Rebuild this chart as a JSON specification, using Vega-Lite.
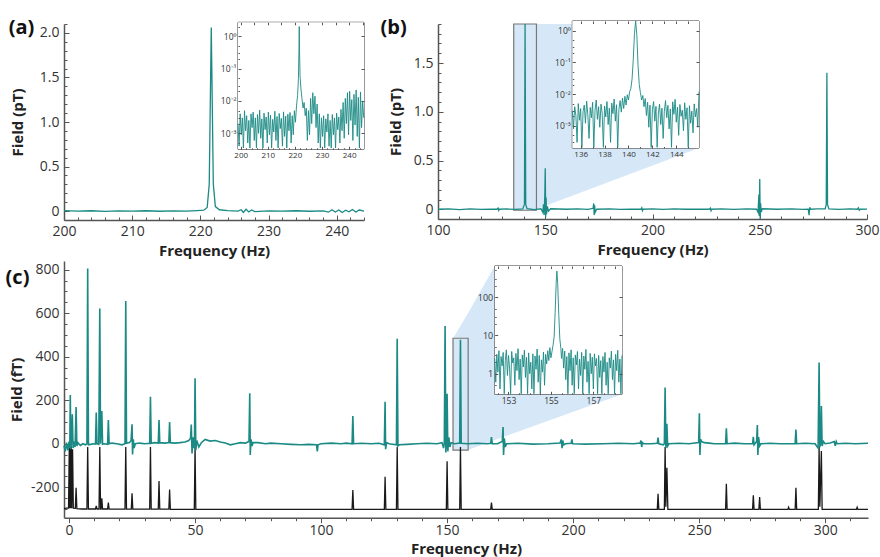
{
  "$schema": "https://vega.github.io/schema/vega-lite/v6.json",
  "background": "white",
  "padding": {"left": 5, "top": 17, "right": 0, "bottom": 0},
  "config": {
    "view": {"stroke": null},
    "font": "Open Sans",
    "axis": {"grid": false, "labelFont": "Open Sans", "labelFontSize": 14, "labelColor": "#333", "titleFont": "Open Sans", "titleFontSize": 15, "titleFontWeight": "bold", "titleColor": "#222", "domainColor": "#555", "domainWidth": 1.5, "tickColor": "#555", "labelFlush": false, "labelOverlap": false}
  },
  "datasets": {
    "a_main": [{"f":200,"v":0.005},{"f":202,"v":0},{"f":204,"v":0.004},{"f":206,"v":-0.003},{"f":208,"v":0.003},{"f":210,"v":0},{"f":212,"v":0.004},{"f":214,"v":-0.002},{"f":216,"v":0.003},{"f":218,"v":0},{"f":219.5,"v":0.005},{"f":220.5,"v":0.01},{"f":221.0,"v":0.04},{"f":221.3,"v":0.3},{"f":221.6,"v":2.06},{"f":221.9,"v":0.3},{"f":222.2,"v":0.05},{"f":222.8,"v":0.015},{"f":224,"v":0.005},{"f":225.5,"v":0},{"f":226,"v":0.015},{"f":226.3,"v":-0.015},{"f":226.7,"v":0.02},{"f":227.1,"v":-0.01},{"f":227.5,"v":0.012},{"f":228,"v":-0.005},{"f":230,"v":0.003},{"f":232,"v":0},{"f":234,"v":0.004},{"f":236,"v":-0.002},{"f":238,"v":0.003},{"f":238.8,"v":-0.012},{"f":239.3,"v":0.015},{"f":239.8,"v":-0.01},{"f":240.3,"v":0.012},{"f":240.8,"v":-0.015},{"f":241.3,"v":0.01},{"f":241.8,"v":-0.008},{"f":242.3,"v":0.018},{"f":242.8,"v":-0.01},{"f":243.3,"v":0.012},{"f":244,"v":0}],
    "a_ins": [{"f":199.0,"v":0.002},{"f":199.4,"v":0.0004},{"f":199.8,"v":0.004},{"f":200.2,"v":0.0009},{"f":200.6,"v":0.003},{"f":201.0,"v":0.00035},{"f":201.4,"v":0.005},{"f":201.8,"v":0.0012},{"f":202.2,"v":0.0035},{"f":202.6,"v":0.0005},{"f":203.0,"v":0.0025},{"f":203.4,"v":0.00035},{"f":203.8,"v":0.004},{"f":204.2,"v":0.0015},{"f":204.6,"v":0.0045},{"f":205.0,"v":0.0006},{"f":205.4,"v":0.003},{"f":205.8,"v":0.00035},{"f":206.2,"v":0.0038},{"f":206.6,"v":0.001},{"f":207.0,"v":0.0052},{"f":207.4,"v":0.0007},{"f":207.8,"v":0.0028},{"f":208.2,"v":0.00035},{"f":208.6,"v":0.0042},{"f":209.0,"v":0.0013},{"f":209.4,"v":0.0032},{"f":209.8,"v":0.0005},{"f":210.2,"v":0.0045},{"f":210.6,"v":0.0009},{"f":211.0,"v":0.0036},{"f":211.4,"v":0.00035},{"f":211.8,"v":0.0027},{"f":212.2,"v":0.0011},{"f":212.6,"v":0.0048},{"f":213.0,"v":0.0006},{"f":213.4,"v":0.0033},{"f":213.8,"v":0.00035},{"f":214.2,"v":0.0041},{"f":214.6,"v":0.0014},{"f":215.0,"v":0.0029},{"f":215.4,"v":0.0004},{"f":215.8,"v":0.0046},{"f":216.2,"v":0.0008},{"f":216.6,"v":0.0034},{"f":217.0,"v":0.00035},{"f":217.4,"v":0.0039},{"f":217.8,"v":0.0012},{"f":218.2,"v":0.0044},{"f":218.6,"v":0.0005},{"f":219.0,"v":0.0035},{"f":219.4,"v":0.0009},{"f":219.8,"v":0.005},{"f":220.2,"v":0.0022},{"f":220.6,"v":0.007},{"f":221.0,"v":0.015},{"f":221.3,"v":0.05},{"f":221.5,"v":0.4},{"f":221.6,"v":2.0},{"f":221.7,"v":0.4},{"f":221.9,"v":0.06},{"f":222.2,"v":0.025},{"f":222.6,"v":0.012},{"f":223.0,"v":0.006},{"f":223.4,"v":0.009},{"f":223.8,"v":0.0035},{"f":224.2,"v":0.006},{"f":224.6,"v":0.0006},{"f":225.0,"v":0.005},{"f":225.4,"v":0.0009},{"f":225.8,"v":0.012},{"f":226.2,"v":0.002},{"f":226.6,"v":0.018},{"f":227.0,"v":0.004},{"f":227.4,"v":0.014},{"f":227.8,"v":0.0015},{"f":228.2,"v":0.008},{"f":228.6,"v":0.0005},{"f":229.0,"v":0.004},{"f":229.4,"v":0.00035},{"f":229.8,"v":0.003},{"f":230.2,"v":0.0008},{"f":230.6,"v":0.0035},{"f":231.0,"v":0.00035},{"f":231.4,"v":0.0028},{"f":231.8,"v":0.0011},{"f":232.2,"v":0.004},{"f":232.6,"v":0.0004},{"f":233.0,"v":0.0025},{"f":233.4,"v":0.00035},{"f":233.8,"v":0.0038},{"f":234.2,"v":0.0009},{"f":234.6,"v":0.003},{"f":235.0,"v":0.00035},{"f":235.4,"v":0.0042},{"f":235.8,"v":0.0013},{"f":236.2,"v":0.0032},{"f":236.6,"v":0.0005},{"f":237.0,"v":0.0055},{"f":237.4,"v":0.0012},{"f":237.8,"v":0.009},{"f":238.2,"v":0.0007},{"f":238.6,"v":0.012},{"f":239.0,"v":0.002},{"f":239.4,"v":0.018},{"f":239.8,"v":0.0009},{"f":240.2,"v":0.02},{"f":240.6,"v":0.0025},{"f":241.0,"v":0.011},{"f":241.4,"v":0.0006},{"f":241.8,"v":0.016},{"f":242.2,"v":0.0018},{"f":242.6,"v":0.022},{"f":243.0,"v":0.0008},{"f":243.4,"v":0.013},{"f":243.8,"v":0.00035},{"f":244.2,"v":0.019},{"f":244.6,"v":0.0015},{"f":245.0,"v":0.01},{"f":245.4,"v":0.003}],
    "b_main": [{"f":100,"v":0},{"f":105,"v":0.004},{"f":110,"v":-0.003},{"f":115,"v":0.003},{"f":120,"v":-0.002},{"f":125,"v":0.002},{"f":127.5,"v":0},{"f":128,"v":0.012},{"f":128.3,"v":-0.012},{"f":128.6,"v":0},{"f":132,"v":0.003},{"f":136,"v":-0.002},{"f":139.5,"v":0.004},{"f":140.3,"v":0.05},{"f":140.6,"v":1.9},{"f":140.9,"v":0.05},{"f":141.5,"v":0.005},{"f":145,"v":-0.003},{"f":148,"v":0.005},{"f":148.8,"v":-0.03},{"f":149.2,"v":0.05},{"f":149.5,"v":-0.06},{"f":149.8,"v":0.15},{"f":150.0,"v":0.42},{"f":150.2,"v":-0.08},{"f":150.4,"v":0.12},{"f":150.6,"v":-0.05},{"f":151,"v":0.03},{"f":151.5,"v":-0.02},{"f":152.5,"v":0.005},{"f":160,"v":0},{"f":165,"v":0.003},{"f":170,"v":-0.002},{"f":172.3,"v":0.01},{"f":172.6,"v":0.06},{"f":172.8,"v":-0.06},{"f":173.0,"v":0.04},{"f":173.3,"v":-0.03},{"f":174,"v":0},{"f":180,"v":0.003},{"f":185,"v":-0.002},{"f":190,"v":0.002},{"f":194.6,"v":0},{"f":195,"v":0.015},{"f":195.3,"v":-0.015},{"f":195.6,"v":0},{"f":200,"v":0.003},{"f":205,"v":-0.002},{"f":210,"v":0.003},{"f":215,"v":0},{"f":220,"v":0.002},{"f":226.5,"v":0},{"f":227,"v":0.012},{"f":227.3,"v":-0.015},{"f":227.6,"v":0},{"f":232,"v":0.003},{"f":238,"v":-0.002},{"f":244,"v":0.003},{"f":248.5,"v":0},{"f":249.2,"v":-0.03},{"f":249.6,"v":0.15},{"f":249.8,"v":-0.07},{"f":250.0,"v":0.31},{"f":250.2,"v":-0.1},{"f":250.4,"v":0.06},{"f":250.7,"v":-0.03},{"f":251.2,"v":0.005},{"f":258,"v":0},{"f":265,"v":0.003},{"f":270,"v":-0.002},{"f":272.6,"v":0},{"f":273,"v":-0.06},{"f":273.3,"v":0.02},{"f":273.6,"v":0},{"f":277,"v":0.003},{"f":280.5,"v":0.003},{"f":281.0,"v":0.05},{"f":281.3,"v":1.4},{"f":281.6,"v":0.05},{"f":282.2,"v":0.004},{"f":287,"v":-0.002},{"f":292,"v":0.003},{"f":295.5,"v":0},{"f":296,"v":0.015},{"f":296.4,"v":-0.01},{"f":296.8,"v":0},{"f":300,"v":0.002}],
    "b_ins": [{"f":135.3,"v":0.003},{"f":135.4,"v":0.0008},{"f":135.5,"v":0.004},{"f":135.6,"v":0.0021},{"f":135.7,"v":0.0003},{"f":135.8,"v":0.005},{"f":135.9,"v":0.0015},{"f":136.0,"v":0.0035},{"f":136.1,"v":0.00021},{"f":136.2,"v":0.0028},{"f":136.3,"v":0.0045},{"f":136.4,"v":0.0012},{"f":136.5,"v":0.006},{"f":136.6,"v":0.0022},{"f":136.7,"v":0.0004},{"f":136.8,"v":0.0038},{"f":136.9,"v":0.0018},{"f":137.0,"v":0.0055},{"f":137.1,"v":0.00021},{"f":137.2,"v":0.003},{"f":137.3,"v":0.0065},{"f":137.4,"v":0.0016},{"f":137.5,"v":0.004},{"f":137.6,"v":0.0009},{"f":137.7,"v":0.0048},{"f":137.8,"v":0.0025},{"f":137.9,"v":0.00021},{"f":138.0,"v":0.0042},{"f":138.1,"v":0.0019},{"f":138.2,"v":0.0058},{"f":138.3,"v":0.0011},{"f":138.4,"v":0.0036},{"f":138.5,"v":0.0003},{"f":138.6,"v":0.0052},{"f":138.7,"v":0.0024},{"f":138.8,"v":0.007},{"f":138.9,"v":0.0014},{"f":139.0,"v":0.0046},{"f":139.1,"v":0.00021},{"f":139.2,"v":0.0033},{"f":139.3,"v":0.0062},{"f":139.4,"v":0.0027},{"f":139.5,"v":0.0075},{"f":139.6,"v":0.0035},{"f":139.7,"v":0.0085},{"f":139.8,"v":0.0045},{"f":139.9,"v":0.0095},{"f":140.0,"v":0.0065},{"f":140.1,"v":0.012},{"f":140.2,"v":0.015},{"f":140.3,"v":0.03},{"f":140.4,"v":0.12},{"f":140.5,"v":0.8},{"f":140.6,"v":2.0},{"f":140.7,"v":0.7},{"f":140.8,"v":0.08},{"f":140.9,"v":0.02},{"f":141.0,"v":0.011},{"f":141.1,"v":0.0065},{"f":141.2,"v":0.009},{"f":141.3,"v":0.004},{"f":141.4,"v":0.0072},{"f":141.5,"v":0.0021},{"f":141.6,"v":0.0055},{"f":141.7,"v":0.0009},{"f":141.8,"v":0.0045},{"f":141.9,"v":0.00021},{"f":142.0,"v":0.0032},{"f":142.1,"v":0.0058},{"f":142.2,"v":0.0014},{"f":142.3,"v":0.0041},{"f":142.4,"v":0.00021},{"f":142.5,"v":0.0025},{"f":142.6,"v":0.0048},{"f":142.7,"v":0.0011},{"f":142.8,"v":0.0036},{"f":142.9,"v":0.0004},{"f":143.0,"v":0.0029},{"f":143.1,"v":0.0062},{"f":143.2,"v":0.0018},{"f":143.3,"v":0.0044},{"f":143.4,"v":0.0008},{"f":143.5,"v":0.0034},{"f":143.6,"v":0.00021},{"f":143.7,"v":0.0057},{"f":143.8,"v":0.0023},{"f":143.9,"v":0.0068},{"f":144.0,"v":0.0013},{"f":144.1,"v":0.0039},{"f":144.2,"v":0.0005},{"f":144.3,"v":0.0047},{"f":144.4,"v":0.002},{"f":144.5,"v":0.0031},{"f":144.6,"v":0.0007},{"f":144.7,"v":0.0053},{"f":144.8,"v":0.0016},{"f":144.9,"v":0.0037},{"f":145.0,"v":0.00021},{"f":145.1,"v":0.0043},{"f":145.2,"v":0.0012},{"f":145.3,"v":0.0029},{"f":145.4,"v":0.0006},{"f":145.5,"v":0.0049},{"f":145.6,"v":0.0019},{"f":145.7,"v":0.0035},{"f":145.8,"v":0.0009},{"f":145.9,"v":0.012}],
    "b_zoom": [{"f":135.3,"lo":0,"hi":1.9},{"f":145.9,"lo":0,"hi":1.9},{"f":221.7,"lo":0.628,"hi":1.9}],
    "b_box": [{"f0":135.3,"f1":145.9,"v0":-0.01,"v1":1.9}],
    "c_zoom": [{"f":152.35,"lo":-29,"hi":485},{"f":158.35,"lo":-29,"hi":601},{"f":168.9,"lo":16.8,"hi":817},{"f":219.4,"lo":227,"hi":817}],
    "c_box": [{"f0":152.35,"f1":158.35,"v0":-29,"v1":485}],
    "c_black": [{"f":-2,"v":-298},{"f":-1,"v":-296},{"f":-0.2,"v":-296},{"f":0.1,"v":-15},{"f":0.3,"v":-296},{"f":0.5,"v":-20},{"f":0.7,"v":-296},{"f":0.9,"v":-12},{"f":1.1,"v":-296},{"f":1.4,"v":-25},{"f":1.7,"v":-296},{"f":2.5,"v":-297},{"f":2.8,"v":-202},{"f":3.1,"v":-298},{"f":5,"v":-300},{"f":7.1,"v":-300},{"f":7.4,"v":-15},{"f":7.7,"v":-300},{"f":10.5,"v":-300},{"f":10.8,"v":-286},{"f":11.1,"v":-300},{"f":11.9,"v":-300},{"f":12.2,"v":-15},{"f":12.5,"v":-300},{"f":12.7,"v":-300},{"f":13.0,"v":-251},{"f":13.3,"v":-300},{"f":15.3,"v":-300},{"f":15.6,"v":-271},{"f":15.9,"v":-301},{"f":22.2,"v":-301},{"f":22.5,"v":-15},{"f":22.8,"v":-301},{"f":24.7,"v":-301},{"f":25.0,"v":-228},{"f":25.3,"v":-301},{"f":32.0,"v":-301},{"f":32.3,"v":-15},{"f":32.6,"v":-301},{"f":35.4,"v":-301},{"f":35.7,"v":-171},{"f":36.0,"v":-301},{"f":39.6,"v":-301},{"f":39.9,"v":-210},{"f":40.2,"v":-302},{"f":49.7,"v":-302},{"f":50.0,"v":-15},{"f":50.3,"v":-302},{"f":112.3,"v":-302},{"f":112.6,"v":-213},{"f":112.9,"v":-302},{"f":125.1,"v":-302},{"f":125.4,"v":-152},{"f":125.7,"v":-302},{"f":129.9,"v":-302},{"f":130.2,"v":-15},{"f":130.5,"v":-302},{"f":149.7,"v":-302},{"f":150.0,"v":-80},{"f":150.3,"v":-302},{"f":155.0,"v":-302},{"f":155.3,"v":-15},{"f":155.6,"v":-302},{"f":167.3,"v":-302},{"f":167.6,"v":-271},{"f":167.9,"v":-302},{"f":233.4,"v":-302},{"f":233.7,"v":-230},{"f":234.0,"v":-302},{"f":236.2,"v":-302},{"f":236.5,"v":-15},{"f":236.8,"v":-290},{"f":237.2,"v":-110},{"f":237.6,"v":-302},{"f":260.5,"v":-302},{"f":260.8,"v":-184},{"f":261.1,"v":-302},{"f":271.2,"v":-302},{"f":271.5,"v":-237},{"f":271.8,"v":-302},{"f":273.7,"v":-302},{"f":274.0,"v":-245},{"f":274.3,"v":-302},{"f":285.2,"v":-302},{"f":285.5,"v":-292},{"f":285.8,"v":-302},{"f":288.1,"v":-302},{"f":288.4,"v":-202},{"f":288.7,"v":-302},{"f":297.3,"v":-302},{"f":297.6,"v":-15},{"f":297.9,"v":-290},{"f":298.5,"v":-34},{"f":298.8,"v":-302},{"f":312.4,"v":-302},{"f":312.7,"v":-292},{"f":313.0,"v":-302},{"f":317,"v":-302}],
    "c_teal": [{"f":-2,"v":-10},{"f":-1.5,"v":-35},{"f":-1,"v":5},{"f":-0.5,"v":-30},{"f":0,"v":10},{"f":0.3,"v":-20},{"f":0.5,"v":224},{"f":0.7,"v":-25},{"f":1.0,"v":15},{"f":1.3,"v":135},{"f":1.6,"v":-20},{"f":2.0,"v":10},{"f":2.4,"v":-15},{"f":2.8,"v":169},{"f":3.1,"v":-10},{"f":3.5,"v":5},{"f":4.5,"v":-8},{"f":5.5,"v":0},{"f":6.5,"v":-5},{"f":7.1,"v":0},{"f":7.4,"v":806},{"f":7.7,"v":-5},{"f":8.5,"v":-3},{"f":9.5,"v":0},{"f":10.5,"v":-2},{"f":10.8,"v":143},{"f":11.1,"v":0},{"f":11.8,"v":-3},{"f":12.2,"v":622},{"f":12.5,"v":0},{"f":13.0,"v":150},{"f":13.3,"v":-2},{"f":14,"v":0},{"f":15.3,"v":-3},{"f":15.6,"v":109},{"f":15.9,"v":0},{"f":17,"v":3},{"f":19,"v":0},{"f":21,"v":-5},{"f":22.2,"v":0},{"f":22.5,"v":656},{"f":22.8,"v":2},{"f":24,"v":5},{"f":24.6,"v":15},{"f":25.0,"v":89},{"f":25.2,"v":-49},{"f":25.5,"v":20},{"f":25.8,"v":-20},{"f":26.3,"v":0},{"f":28,"v":3},{"f":30,"v":0},{"f":32,"v":2},{"f":32.3,"v":216},{"f":32.6,"v":2},{"f":34,"v":5},{"f":35.4,"v":3},{"f":35.7,"v":109},{"f":36.0,"v":5},{"f":38,"v":3},{"f":39.6,"v":5},{"f":39.9,"v":100},{"f":40.2,"v":5},{"f":42,"v":3},{"f":44,"v":5},{"f":46,"v":8},{"f":47.5,"v":15},{"f":48.2,"v":25},{"f":48.5,"v":88},{"f":48.8,"v":-45},{"f":49.2,"v":30},{"f":49.6,"v":-20},{"f":49.8,"v":35},{"f":50.0,"v":301},{"f":50.3,"v":-30},{"f":50.7,"v":15},{"f":51.5,"v":-15},{"f":52.5,"v":5},{"f":54,"v":20},{"f":56,"v":12},{"f":58,"v":15},{"f":60,"v":8},{"f":62,"v":3},{"f":64,"v":-5},{"f":66,"v":0},{"f":68,"v":5},{"f":70,"v":3},{"f":71.4,"v":10},{"f":71.7,"v":232},{"f":71.9,"v":-52},{"f":72.2,"v":20},{"f":72.6,"v":-10},{"f":73,"v":5},{"f":75,"v":5},{"f":78,"v":0},{"f":80,"v":3},{"f":84,"v":0},{"f":88,"v":-3},{"f":92,"v":-5},{"f":95,"v":-3},{"f":98.2,"v":-5},{"f":98.5,"v":-35},{"f":98.8,"v":-5},{"f":100,"v":0},{"f":104,"v":3},{"f":108,"v":0},{"f":110,"v":3},{"f":112.3,"v":0},{"f":112.6,"v":127},{"f":112.9,"v":0},{"f":116,"v":2},{"f":120,"v":0},{"f":123,"v":2},{"f":125.1,"v":-5},{"f":125.4,"v":193},{"f":125.6,"v":-25},{"f":126,"v":5},{"f":127,"v":0},{"f":129.9,"v":-5},{"f":130.2,"v":483},{"f":130.5,"v":-10},{"f":131,"v":-5},{"f":134,"v":-3},{"f":138,"v":0},{"f":142,"v":2},{"f":146,"v":0},{"f":148,"v":5},{"f":148.6,"v":-20},{"f":148.9,"v":5},{"f":149.2,"v":541},{"f":149.5,"v":-40},{"f":149.8,"v":20},{"f":150.0,"v":230},{"f":150.3,"v":-35},{"f":150.7,"v":30},{"f":151.1,"v":-15},{"f":151.6,"v":5},{"f":153,"v":0},{"f":155.0,"v":3},{"f":155.3,"v":478},{"f":155.6,"v":2},{"f":158,"v":0},{"f":162,"v":2},{"f":166,"v":0},{"f":167.3,"v":2},{"f":167.6,"v":31},{"f":167.9,"v":0},{"f":170,"v":0},{"f":171.9,"v":10},{"f":172.2,"v":77},{"f":172.4,"v":-52},{"f":172.7,"v":25},{"f":173.1,"v":-15},{"f":173.6,"v":0},{"f":178,"v":2},{"f":184,"v":-2},{"f":190,"v":0},{"f":194.8,"v":3},{"f":195.3,"v":20},{"f":195.6,"v":-20},{"f":195.9,"v":15},{"f":196.3,"v":-5},{"f":197,"v":0},{"f":199.2,"v":2},{"f":199.5,"v":20},{"f":199.8,"v":0},{"f":205,"v":-2},{"f":212,"v":0},{"f":218,"v":2},{"f":224,"v":0},{"f":226.6,"v":3},{"f":226.9,"v":15},{"f":227.2,"v":-15},{"f":227.5,"v":5},{"f":228,"v":0},{"f":231,"v":0},{"f":233.4,"v":2},{"f":233.7,"v":28},{"f":234.0,"v":0},{"f":235.8,"v":-5},{"f":236.2,"v":0},{"f":236.5,"v":258},{"f":236.8,"v":-20},{"f":237.2,"v":92},{"f":237.5,"v":-10},{"f":238,"v":0},{"f":242,"v":2},{"f":246,"v":0},{"f":249.8,"v":5},{"f":250.1,"v":140},{"f":250.3,"v":-52},{"f":250.6,"v":20},{"f":251,"v":10},{"f":252,"v":5},{"f":254,"v":3},{"f":256,"v":0},{"f":260.5,"v":0},{"f":260.8,"v":71},{"f":261.1,"v":0},{"f":264,"v":3},{"f":268,"v":0},{"f":271.2,"v":0},{"f":271.5,"v":32},{"f":271.8,"v":-5},{"f":272.8,"v":10},{"f":273.1,"v":86},{"f":273.3,"v":-52},{"f":273.6,"v":30},{"f":274,"v":-10},{"f":274.5,"v":0},{"f":278,"v":2},{"f":282,"v":0},{"f":288.1,"v":0},{"f":288.4,"v":65},{"f":288.7,"v":0},{"f":292,"v":2},{"f":296,"v":0},{"f":297.2,"v":-20},{"f":297.6,"v":373},{"f":297.9,"v":-15},{"f":298.3,"v":10},{"f":298.5,"v":173},{"f":298.8,"v":-10},{"f":299.3,"v":10},{"f":300,"v":0},{"f":302,"v":3},{"f":303.6,"v":10},{"f":304,"v":-10},{"f":304.4,"v":10},{"f":304.8,"v":0},{"f":308,"v":2},{"f":312,"v":0},{"f":317,"v":2}],
    "c_ins": [{"f":152.35,"v":2.5},{"f":152.40,"v":0.6},{"f":152.45,"v":3.2},{"f":152.50,"v":1.1},{"f":152.55,"v":4.0},{"f":152.60,"v":0.4},{"f":152.65,"v":2.8},{"f":152.70,"v":1.6},{"f":152.75,"v":3.6},{"f":152.80,"v":0.3},{"f":152.85,"v":2.2},{"f":152.90,"v":4.2},{"f":152.95,"v":0.9},{"f":153.00,"v":3.0},{"f":153.05,"v":1.4},{"f":153.10,"v":0.3},{"f":153.15,"v":3.8},{"f":153.20,"v":1.9},{"f":153.25,"v":2.6},{"f":153.30,"v":0.5},{"f":153.35,"v":3.4},{"f":153.40,"v":1.2},{"f":153.45,"v":4.5},{"f":153.50,"v":0.7},{"f":153.55,"v":2.4},{"f":153.60,"v":0.3},{"f":153.65,"v":3.1},{"f":153.70,"v":1.5},{"f":153.75,"v":4.1},{"f":153.80,"v":0.8},{"f":153.85,"v":2.7},{"f":153.90,"v":0.3},{"f":153.95,"v":3.5},{"f":154.00,"v":1.0},{"f":154.05,"v":2.0},{"f":154.10,"v":0.4},{"f":154.15,"v":3.3},{"f":154.20,"v":0.3},{"f":154.25,"v":2.9},{"f":154.30,"v":1.3},{"f":154.35,"v":4.4},{"f":154.40,"v":0.6},{"f":154.45,"v":3.0},{"f":154.50,"v":0.3},{"f":154.55,"v":2.3},{"f":154.60,"v":1.1},{"f":154.65,"v":3.7},{"f":154.70,"v":0.5},{"f":154.75,"v":3.2},{"f":154.80,"v":1.8},{"f":154.85,"v":4.0},{"f":154.90,"v":2.2},{"f":154.95,"v":4.8},{"f":155.00,"v":2.6},{"f":155.05,"v":3.8},{"f":155.10,"v":5.5},{"f":155.15,"v":9},{"f":155.20,"v":40},{"f":155.25,"v":250},{"f":155.28,"v":480},{"f":155.32,"v":230},{"f":155.37,"v":35},{"f":155.42,"v":8},{"f":155.47,"v":4.5},{"f":155.50,"v":2.5},{"f":155.55,"v":4.6},{"f":155.60,"v":1.4},{"f":155.65,"v":3.9},{"f":155.70,"v":0.7},{"f":155.75,"v":2.8},{"f":155.80,"v":0.3},{"f":155.85,"v":3.5},{"f":155.90,"v":1.2},{"f":155.95,"v":4.2},{"f":156.00,"v":0.5},{"f":156.05,"v":2.6},{"f":156.10,"v":0.3},{"f":156.15,"v":3.1},{"f":156.20,"v":1.7},{"f":156.25,"v":3.8},{"f":156.30,"v":0.4},{"f":156.35,"v":2.4},{"f":156.40,"v":0.9},{"f":156.45,"v":3.6},{"f":156.50,"v":0.3},{"f":156.55,"v":2.9},{"f":156.60,"v":1.3},{"f":156.65,"v":4.3},{"f":156.70,"v":0.6},{"f":156.75,"v":2.1},{"f":156.80,"v":0.3},{"f":156.85,"v":3.4},{"f":156.90,"v":1.0},{"f":156.95,"v":2.7},{"f":157.00,"v":0.4},{"f":157.05,"v":3.3},{"f":157.10,"v":1.6},{"f":157.15,"v":2.5},{"f":157.20,"v":0.3},{"f":157.25,"v":3.0},{"f":157.30,"v":0.8},{"f":157.35,"v":2.2},{"f":157.40,"v":0.3},{"f":157.45,"v":2.8},{"f":157.50,"v":1.1},{"f":157.55,"v":3.6},{"f":157.60,"v":0.5},{"f":157.65,"v":2.0},{"f":157.70,"v":0.3},{"f":157.75,"v":2.6},{"f":157.80,"v":1.4},{"f":157.85,"v":3.9},{"f":157.90,"v":0.7},{"f":157.95,"v":2.3},{"f":158.00,"v":0.3},{"f":158.05,"v":3.2},{"f":158.10,"v":1.2},{"f":158.15,"v":4.1},{"f":158.20,"v":0.6},{"f":158.25,"v":2.4},{"f":158.30,"v":0.3},{"f":158.35,"v":3.0}]
  },
  "concat": [
    {
      "hconcat": [
        {
          "width": 300, "height": 196,
          "layer": [
            {
              "layer": [
                {
                  "data": {"name": "a_main"},
                  "mark": {"type": "line", "color": "#1b8a85", "strokeWidth": 1.3},
                  "encoding": {
                    "x": {"field": "f", "type": "quantitative", "scale": {"domain": [200, 244], "nice": false, "zero": false},
                      "axis": {"orient": "bottom", "title": "Frequency (Hz)", "values": [200,210,220,230,240], "tickSize": -5, "labelPadding": 9, "titlePadding": 5}},
                    "y": {"field": "v", "type": "quantitative", "scale": {"domain": [-0.1, 2.1], "nice": false, "zero": false},
                      "axis": {"orient": "left", "title": "Field (pT)", "values": [0,0.5,1,1.5,2], "labelExpr": "datum.value == 0 ? '0' : format(datum.value, '.1f')", "tickSize": -5, "labelPadding": 10, "titlePadding": 14}}
                  }
                },
                {
                  "data": {"values": [{"label": "(a)"}]},
                  "mark": {"type": "text", "fontSize": 20, "fontWeight": "bold", "font": "Open Sans", "color": "#111", "align": "center", "baseline": "middle"},
                  "encoding": {
                    "x": {"datum": 193.77, "type": "quantitative", "axis": {"orient": "bottom", "title": null, "labels": false, "domain": false, "tickSize": -3, "values": [202,204,206,208,212,214,216,218,222,224,226,228,232,234,236,238,242,244]}},
                    "y": {"datum": 2.06, "type": "quantitative", "axis": {"orient": "left", "title": null, "labels": false, "domain": false, "tickSize": -3, "values": [0.1,0.2,0.3,0.4,0.6,0.7,0.8,0.9,1.1,1.2,1.3,1.4,1.6,1.7,1.8,1.9,2.1]}},
                    "text": {"field": "label"}
                  }
                }
              ],
              "resolve": {"axis": {"x": "independent", "y": "independent"}}
            },
            {
              "layer": [
                {
                  "data": {"values": [{}]},
                  "mark": {"type": "rect", "fill": "white", "stroke": "#333", "strokeWidth": 1},
                  "encoding": {
                    "x": {"datum": 199, "type": "quantitative", "scale": {"domain": [199, 245.5], "range": [174, 300], "nice": false, "zero": false},
                      "axis": {"orient": "bottom", "offset": -70.7, "zindex": 1, "title": null, "domain": false, "values": [200,210,220,230,240], "labelFontSize": 8, "labelPadding": 5, "tickSize": -3}},
                    "x2": {"datum": 245.5},
                    "y": {"datum": 0.00032, "type": "quantitative", "scale": {"type": "log", "domain": [0.00032, 2.7], "range": [125.3, -1.7], "nice": false},
                      "axis": {"orient": "left", "offset": -174, "zindex": 1, "title": null, "domain": false, "values": [0.001,0.01,0.1,1], "labelExpr": "datum.value == 1 ? '10⁰' : datum.value == 0.1 ? '10⁻¹' : datum.value == 0.01 ? '10⁻²' : '10⁻³'", "labelFontSize": 8.5, "labelPadding": 5, "tickSize": -3}},
                    "y2": {"datum": 2.7}
                  }
                },
                {
                  "data": {"values": [{}]},
                  "mark": {"type": "rect", "fill": "white", "strokeWidth": 0},
                  "encoding": {
                    "x": {"datum": 199, "type": "quantitative", "axis": {"orient": "bottom", "offset": -70.7, "zindex": 1, "title": null, "domain": false, "labels": false, "values": [202,204,206,208,212,214,216,218,222,224,226,228,232,234,236,238,242,244], "tickSize": -1.5}},
                    "x2": {"datum": 245.5},
                    "y": {"datum": 0.00032, "type": "quantitative", "axis": {"orient": "left", "offset": -174, "zindex": 1, "title": null, "domain": false, "labels": false, "values": [0.0005,0.002,0.003,0.005,0.02,0.03,0.05,0.2,0.3,0.5,2], "tickSize": -1.5}},
                    "y2": {"datum": 2.7}
                  }
                },
                {
                  "data": {"name": "a_ins"},
                  "mark": {"type": "line", "color": "#1b8a85", "strokeWidth": 0.9},
                  "encoding": {
                    "x": {"field": "f", "type": "quantitative", "scale": {"domain": [199, 245.5], "range": [174, 300], "nice": false, "zero": false},
                      "axis": {"orient": "top", "offset": 1.7, "zindex": 1, "title": null, "domain": false, "labels": false, "values": [200,205,210,215,220,225,230,235,240,245], "tickSize": -2.5}},
                    "y": {"field": "v", "type": "quantitative", "scale": {"type": "log", "domain": [0.00032, 2.7], "range": [125.3, -1.7], "nice": false},
                      "axis": {"orient": "right", "offset": 0, "zindex": 1, "title": null, "domain": false, "labels": false, "values": [0.001,0.01,0.1,1], "tickSize": -3}}
                  }
                }
              ],
              "resolve": {"axis": {"x": "independent", "y": "independent"}}
            }
          ],
          "resolve": {"scale": {"x": "independent", "y": "independent"}, "axis": {"x": "independent", "y": "independent"}}
        },
        {
          "width": 429, "height": 195,
          "layer": [
            {
              "layer": [
                {
                  "data": {"name": "b_zoom"},
                  "mark": {"type": "area", "color": "#d6e8f7", "opacity": 1},
                  "encoding": {
                    "x": {"field": "f", "type": "quantitative", "scale": {"domain": [100, 300], "nice": false, "zero": false},
                      "axis": {"orient": "bottom", "title": "Frequency (Hz)", "values": [100,150,200,250,300], "tickSize": -5, "labelPadding": 9, "titlePadding": 5}},
                    "y": {"field": "hi", "type": "quantitative", "scale": {"domain": [-0.1, 1.9], "nice": false, "zero": false},
                      "axis": {"orient": "left", "title": "Field (pT)", "values": [0,0.5,1,1.5], "labelExpr": "datum.value == 0 ? '0' : format(datum.value, '.1f')", "tickSize": -5, "labelPadding": 10, "titlePadding": 10}},
                    "y2": {"field": "lo"}
                  }
                },
                {
                  "data": {"name": "b_box"},
                  "mark": {"type": "rect", "fill": "#d6e8f7", "stroke": "#777", "strokeWidth": 1.2},
                  "encoding": {
                    "x": {"field": "f0", "type": "quantitative", "axis": {"orient": "bottom", "title": null, "labels": false, "domain": false, "tickSize": -3, "values": [110,120,130,140,160,170,180,190,210,220,230,240,260,270,280,290]}},
                    "x2": {"field": "f1"},
                    "y": {"field": "v0", "type": "quantitative", "axis": {"orient": "left", "title": null, "labels": false, "domain": false, "tickSize": -3, "values": [0.1,0.2,0.3,0.4,0.6,0.7,0.8,0.9,1.1,1.2,1.3,1.4,1.6,1.7,1.8,1.9]}},
                    "y2": {"field": "v1"}
                  }
                },
                {
                  "data": {"name": "b_main"},
                  "mark": {"type": "line", "color": "#1b8a85", "strokeWidth": 1.3},
                  "encoding": {"x": {"field": "f", "type": "quantitative", "axis": null}, "y": {"field": "v", "type": "quantitative", "axis": null}}
                },
                {
                  "data": {"values": [{"label": "(b)"}]},
                  "mark": {"type": "text", "fontSize": 20, "fontWeight": "bold", "font": "Open Sans", "color": "#111", "align": "center", "baseline": "middle"},
                  "encoding": {"x": {"datum": 79.3, "type": "quantitative", "axis": null}, "y": {"datum": 1.86, "type": "quantitative", "axis": null}, "text": {"field": "label"}}
                }
              ],
              "resolve": {"axis": {"x": "independent", "y": "independent"}}
            },
            {
              "layer": [
                {
                  "data": {"values": [{}]},
                  "mark": {"type": "rect", "fill": "white", "stroke": "#333", "strokeWidth": 1},
                  "encoding": {
                    "x": {"datum": 135.3, "type": "quantitative", "scale": {"domain": [135.3, 145.9], "range": [134.3, 261], "nice": false, "zero": false},
                      "axis": {"orient": "bottom", "offset": -71, "zindex": 1, "title": null, "domain": false, "values": [136,138,140,142,144], "labelFontSize": 8, "labelPadding": 5, "tickSize": -3}},
                    "x2": {"datum": 145.9},
                    "y": {"datum": 0.0002, "type": "quantitative", "scale": {"type": "log", "domain": [0.0002, 2.0], "range": [124, -3], "nice": false},
                      "axis": {"orient": "left", "offset": -134.3, "zindex": 1, "title": null, "domain": false, "values": [0.001,0.01,0.1,1], "labelExpr": "datum.value == 1 ? '10⁰' : datum.value == 0.1 ? '10⁻¹' : datum.value == 0.01 ? '10⁻²' : '10⁻³'", "labelFontSize": 8.5, "labelPadding": 5, "tickSize": -3}},
                    "y2": {"datum": 2.0}
                  }
                },
                {
                  "data": {"values": [{}]},
                  "mark": {"type": "rect", "fill": "white", "strokeWidth": 0},
                  "encoding": {
                    "x": {"datum": 135.3, "type": "quantitative", "axis": {"orient": "bottom", "offset": -71, "zindex": 1, "title": null, "domain": false, "labels": false, "values": [137,139,141,143,145], "tickSize": -1.5}},
                    "x2": {"datum": 145.9},
                    "y": {"datum": 0.0002, "type": "quantitative", "axis": {"orient": "left", "offset": -134.3, "zindex": 1, "title": null, "domain": false, "labels": false, "values": [0.0003,0.0005,0.002,0.003,0.005,0.02,0.03,0.05,0.2,0.3,0.5], "tickSize": -1.5}},
                    "y2": {"datum": 2.0}
                  }
                },
                {
                  "data": {"name": "b_ins"},
                  "mark": {"type": "line", "color": "#1b8a85", "strokeWidth": 0.9},
                  "encoding": {
                    "x": {"field": "f", "type": "quantitative", "scale": {"domain": [135.3, 145.9], "range": [134.3, 261], "nice": false, "zero": false},
                      "axis": {"orient": "top", "offset": 3, "zindex": 1, "title": null, "domain": false, "labels": false, "values": [136,137,138,139,140,141,142,143,144,145], "tickSize": -2.5}},
                    "y": {"field": "v", "type": "quantitative", "scale": {"type": "log", "domain": [0.0002, 2.0], "range": [124, -3], "nice": false},
                      "axis": {"orient": "right", "offset": -168, "zindex": 1, "title": null, "domain": false, "labels": false, "values": [0.001,0.01,0.1,1], "tickSize": -3}}
                  }
                }
              ],
              "resolve": {"axis": {"x": "independent", "y": "independent"}}
            }
          ],
          "resolve": {"scale": {"x": "independent", "y": "independent"}, "axis": {"x": "independent", "y": "independent"}}
        }
      ],
      "spacing": 13
    },
    {
      "width": 804, "height": 256.7,
      "layer": [
        {
          "layer": [
            {
              "data": {"name": "c_zoom"},
              "mark": {"type": "area", "color": "#d6e8f7", "opacity": 1},
              "encoding": {
                "x": {"field": "f", "type": "quantitative", "scale": {"domain": [-2, 317], "nice": false, "zero": false},
                  "axis": {"orient": "bottom", "title": "Frequency (Hz)", "values": [0,50,100,150,200,250,300], "tickSize": 5, "labelPadding": 1, "titlePadding": 4}},
                "y": {"field": "hi", "type": "quantitative", "scale": {"domain": [-340, 840], "nice": false, "zero": false},
                  "axis": {"orient": "left", "title": "Field (fT)", "values": [-200,0,200,400,600,800], "labelExpr": "datum.value < 0 ? '-' + format(-datum.value, 'd') : format(datum.value, 'd')", "tickSize": -5, "labelPadding": 10, "titlePadding": 6}},
                "y2": {"field": "lo"}
              }
            },
            {
              "data": {"name": "c_box"},
              "mark": {"type": "rect", "fill": "#d6e8f7", "stroke": "#777", "strokeWidth": 1.2},
              "encoding": {
                "x": {"field": "f0", "type": "quantitative", "axis": {"orient": "bottom", "title": null, "labels": false, "domain": false, "tickSize": 3, "values": [10,20,30,40,60,70,80,90,110,120,130,140,160,170,180,190,210,220,230,240,260,270,280,290,310]}},
                "x2": {"field": "f1"},
                "y": {"field": "v0", "type": "quantitative", "axis": {"orient": "left", "title": null, "labels": false, "domain": false, "tickSize": -3, "values": [-300,-250,-150,-100,-50,50,100,150,250,300,350,450,500,550,650,700,750]}},
                "y2": {"field": "v1"}
              }
            },
            {
              "data": {"name": "c_black"},
              "mark": {"type": "line", "color": "#1a1a1a", "strokeWidth": 1.3},
              "encoding": {"x": {"field": "f", "type": "quantitative", "axis": null}, "y": {"field": "v", "type": "quantitative", "axis": null}}
            },
            {
              "data": {"name": "c_teal"},
              "mark": {"type": "line", "color": "#1b8a85", "strokeWidth": 1.6},
              "encoding": {"x": {"field": "f", "type": "quantitative", "axis": null}, "y": {"field": "v", "type": "quantitative", "axis": null}}
            },
            {
              "data": {"values": [{"label": "(c)"}]},
              "mark": {"type": "text", "fontSize": 20, "fontWeight": "bold", "font": "Open Sans", "color": "#111", "align": "center", "baseline": "middle"},
              "encoding": {"x": {"datum": -20.45, "type": "quantitative", "axis": null}, "y": {"datum": 762, "type": "quantitative", "axis": null}, "text": {"field": "label"}}
            }
          ],
          "resolve": {"axis": {"x": "independent", "y": "independent"}}
        },
        {
          "layer": [
            {
              "data": {"values": [{}]},
              "mark": {"type": "rect", "fill": "white", "stroke": "#333", "strokeWidth": 1},
              "encoding": {
                "x": {"datum": 152.35, "type": "quantitative", "scale": {"domain": [152.35, 158.35], "range": [430.7, 558], "nice": false, "zero": false},
                  "axis": {"orient": "bottom", "offset": -123.4, "zindex": 1, "title": null, "domain": false, "values": [153,155,157], "labelFontSize": 8.5, "labelPadding": 5, "tickSize": -3}},
                "x2": {"datum": 158.35},
                "y": {"datum": 0.29, "type": "quantitative", "scale": {"type": "log", "domain": [0.29, 650], "range": [133.3, 5], "nice": false},
                  "axis": {"orient": "left", "offset": -430.7, "zindex": 1, "title": null, "domain": false, "values": [1,10,100], "labelExpr": "format(datum.value, 'd')", "labelFontSize": 9, "labelPadding": 5, "tickSize": -3}},
                "y2": {"datum": 650}
              }
            },
            {
              "data": {"values": [{}]},
              "mark": {"type": "rect", "fill": "white", "strokeWidth": 0},
              "encoding": {
                "x": {"datum": 152.35, "type": "quantitative", "axis": {"orient": "bottom", "offset": -123.4, "zindex": 1, "title": null, "domain": false, "labels": false, "values": [152.5,153.5,154,154.5,155.5,156,156.5,157.5,158], "tickSize": -1.5}},
                "x2": {"datum": 158.35},
                "y": {"datum": 0.29, "type": "quantitative", "axis": {"orient": "left", "offset": -430.7, "zindex": 1, "title": null, "domain": false, "labels": false, "values": [0.5,2,3,5,20,30,50,200,300,500], "tickSize": -1.5}},
                "y2": {"datum": 650}
              }
            },
            {
              "data": {"name": "c_ins"},
              "mark": {"type": "line", "color": "#1b8a85", "strokeWidth": 0.9},
              "encoding": {
                "x": {"field": "f", "type": "quantitative", "scale": {"domain": [152.35, 158.35], "range": [430.7, 558], "nice": false, "zero": false},
                  "axis": {"orient": "top", "offset": -5, "zindex": 1, "title": null, "domain": false, "labels": false, "values": [152.5,153,153.5,154,154.5,155,155.5,156,156.5,157,157.5,158], "tickSize": -2.5}},
                "y": {"field": "v", "type": "quantitative", "scale": {"type": "log", "domain": [0.29, 650], "range": [133.3, 5], "nice": false},
                  "axis": {"orient": "right", "offset": -246, "zindex": 1, "title": null, "domain": false, "labels": false, "values": [1,10,100], "tickSize": -3}}
              }
            }
          ],
          "resolve": {"axis": {"x": "independent", "y": "independent"}}
        }
      ],
      "resolve": {"scale": {"x": "independent", "y": "independent"}, "axis": {"x": "independent", "y": "independent"}}
    }
  ],
  "columns": 1,
  "align": "none",
  "spacing": 3
}
